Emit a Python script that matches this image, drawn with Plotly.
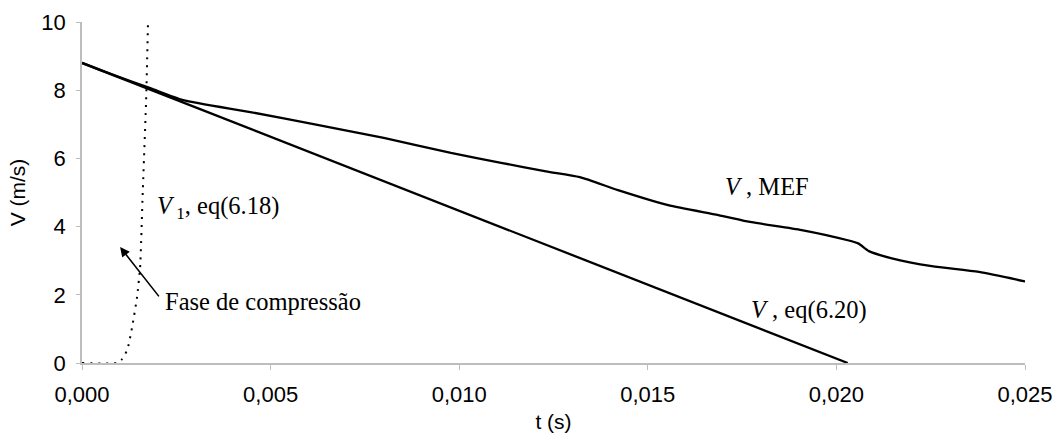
import plotly.graph_objects as go

# ---- data ----
t_mef = [0.0, 0.0009, 0.00181, 0.00268, 0.00446, 0.00624, 0.0080, 0.00978, 0.01111,
         0.01230, 0.01320, 0.01421, 0.01554, 0.01687, 0.01775, 0.01908, 0.02030, 0.02059,
         0.02086, 0.02147, 0.02253, 0.02378, 0.02505]
v_mef = [8.8, 8.42, 8.06, 7.71, 7.36, 6.98, 6.60, 6.16, 5.87,
         5.62, 5.45, 5.07, 4.63, 4.34, 4.13, 3.90, 3.60, 3.50,
         3.28, 3.07, 2.84, 2.67, 2.38]

t_eq620 = [0.0, 0.0203]
v_eq620 = [8.8, 0.0]

t_v1 = [0.0, 0.00093, 0.00105, 0.0012, 0.00133, 0.00146, 0.00154, 0.00161, 0.0017, 0.00175]
v_v1 = [0.0, 0.0, 0.1, 0.38, 1.06, 1.94, 2.8, 5.0, 7.7, 10.0]

x_ticks = [0.0, 0.005, 0.010, 0.015, 0.020, 0.025]
x_tick_labels = ["0,000", "0,005", "0,010", "0,015", "0,020", "0,025"]
y_ticks = [0, 2, 4, 6, 8, 10]

SERIF = "Liberation Serif, Times New Roman, serif"
SANS = "Liberation Sans, Arial, sans-serif"

fig = go.Figure()
fig.add_trace(go.Scatter(x=t_mef, y=v_mef, mode="lines",
                         line=dict(color="black", width=2.3, shape="spline", smoothing=0.6),
                         showlegend=False, hoverinfo="skip"))
fig.add_trace(go.Scatter(x=t_eq620, y=v_eq620, mode="lines",
                         line=dict(color="black", width=2.3), showlegend=False, hoverinfo="skip"))
fig.add_trace(go.Scatter(x=t_v1, y=v_v1, mode="lines",
                         line=dict(color="black", width=2, dash="2px,6px", shape="spline",
                                   smoothing=0.5),
                         showlegend=False, hoverinfo="skip"))

labels = [
    ("<i>V</i><sub> 1</sub>, eq(6.18)", 0.00194, 4.57),
    ("Fase de compressão", 0.00215, 1.79),
    ("<i>V</i> , MEF", 0.0170, 5.18),
    ("<i>V</i> , eq(6.20)", 0.01767, 1.55),
]
for txt, x, y in labels:
    fig.add_annotation(x=x, y=y, text=txt, showarrow=False, xanchor="left", yanchor="middle",
                       font=dict(family=SERIF, size=24.5, color="black"))

# arrow pointing to the compression phase
fig.add_annotation(x=0.00101, y=3.40, ax=0.00207, ay=1.91, axref="x", ayref="y",
                   xref="x", yref="y", text="", showarrow=True,
                   arrowhead=2, arrowsize=1.2, arrowwidth=1.6, arrowcolor="black")

fig.update_layout(
    width=1054, height=448,
    margin=dict(l=82, r=29, t=22, b=85, autoexpand=False),
    paper_bgcolor="white", plot_bgcolor="white",
    font=dict(family=SANS, size=22, color="black"),
)
fig.update_xaxes(range=[0, 0.025], tickvals=x_ticks, ticktext=x_tick_labels, automargin=False,
                 showgrid=False, zeroline=False, showline=True, linecolor="#bdbdbd", linewidth=1.5,
                 ticks="outside", ticklen=5, tickcolor="#bdbdbd", ticklabelstandoff=6,
                 title=dict(text="t (s)", standoff=8, font=dict(family=SANS, size=21)))
fig.update_yaxes(range=[0, 10], tickvals=y_ticks, automargin=False,
                 showgrid=False, zeroline=False, showline=True, linecolor="#bdbdbd", linewidth=1.5,
                 ticks="outside", ticklen=4, tickcolor="#bdbdbd", ticklabelstandoff=6,
                 title=dict(text="V (m/s)", standoff=10, font=dict(family=SANS, size=21)))

# remove the default page margin so the figure sits exactly in the window
fig.write_html("out.html", config={"displayModeBar": False},
               post_script="document.body.style.margin='0';document.body.style.overflow='hidden';")
